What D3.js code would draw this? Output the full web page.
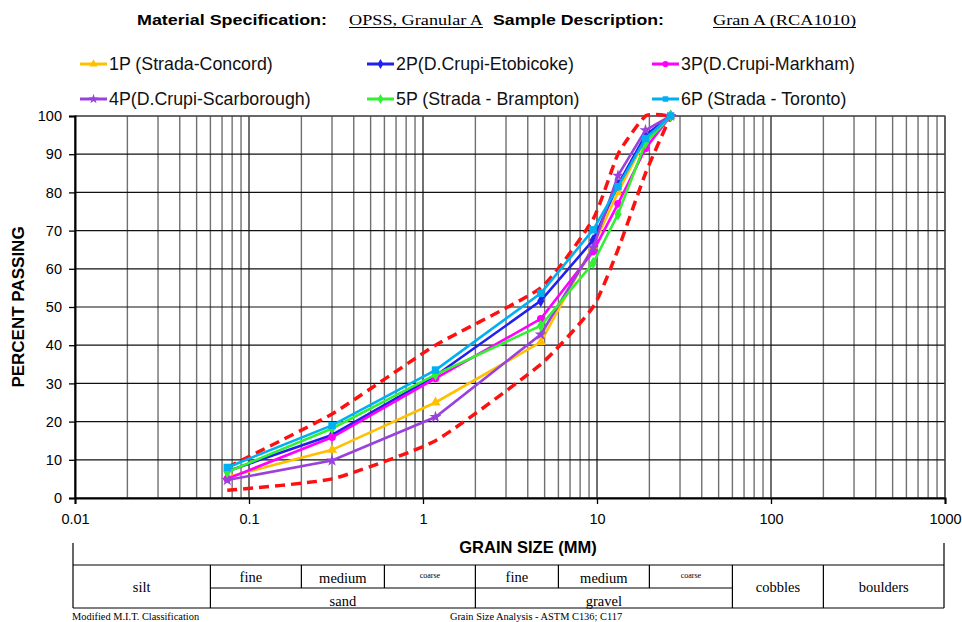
<!DOCTYPE html>
<html><head><meta charset="utf-8">
<script src="https://cdn.jsdelivr.net/npm/d3@7"></script>
<style>body{margin:0;background:#fff}svg{display:block}</style>
</head><body>
<svg id="c" width="962" height="622"></svg>
<script>
// ---- data ----
const sieves = [0.075, 0.3, 1.18, 4.75, 9.5, 13.2, 19, 26.5];
const s1P = [5.5, 12.6, 25, 40.8, 66, 80, 94, 100];
const s2P = [7, 16.5, 32, 51.6, 67.5, 82, 95, 100];
const s3P = [5, 15.9, 31.3, 46.9, 64.5, 77, 91.5, 100];
const s4P = [4.7, 9.8, 21.2, 42.8, 65.5, 84.4, 96.3, 100];
const s5P = [6.8, 18.2, 32.3, 45.1, 61.5, 74.3, 93, 100];
const s6P = [8, 19, 33.5, 53.6, 70.2, 81.5, 94.1, 100];
const upperLimit = [8, 22, 40, 55, 73, 90, 100, 100];
const lowerLimit = [2, 5, 15, 35, 50, 65, 85, 100];
const seriesNames = ["1P (Strada-Concord)", "2P(D.Crupi-Etobicoke)", "3P(D.Crupi-Markham)",
  "4P(D.Crupi-Scarborough)", "5P (Strada - Brampton)", "6P (Strada - Toronto)"];
const xTicks = [0.01, 0.1, 1, 10, 100, 1000];
const yTicks = [0, 10, 20, 30, 40, 50, 60, 70, 80, 90, 100];
// classification boundaries (mm)
const classBounds = [0.06, 0.2, 0.6, 2, 6, 20, 60, 200];

const series = [s1P, s2P, s3P, s4P, s5P, s6P];
const colors = ["#FFC000", "#2020F0", "#FF00FF", "#9A40DC", "#33F033", "#00B0F0"];
const symbols = [d3.symbolTriangle, d3.symbolDiamond, d3.symbolCircle, d3.symbolStar, d3.symbolDiamond, d3.symbolSquare];

const svg = d3.select("#c");
const L = 75, R = 945, T = 116, B = 498;
const x = d3.scaleLog().domain([0.01, 1000]).range([L, R]);
const y = d3.scaleLinear().domain([0, 100]).range([B, T]);
const sans = "'Liberation Sans', Arial, sans-serif";
const serif = "'Liberation Serif', 'Times New Roman', serif";

// ---- title ----
const title = svg.append("g");
title.append("text").attr("x", 137).attr("y", 25).attr("font-family", sans).attr("font-weight", "bold")
  .attr("font-size", 15.5).attr("textLength", 190).attr("lengthAdjust", "spacingAndGlyphs").text("Material Specification:");
title.append("text").attr("x", 349).attr("y", 25).attr("font-family", serif).attr("font-size", 15.5)
  .attr("textLength", 134).attr("lengthAdjust", "spacingAndGlyphs").text("OPSS, Granular A");
title.append("line").attr("x1", 349).attr("x2", 483).attr("y1", 27.5).attr("y2", 27.5).attr("stroke", "#000").attr("stroke-width", 1);
title.append("text").attr("x", 493).attr("y", 25).attr("font-family", sans).attr("font-weight", "bold")
  .attr("font-size", 15.5).attr("textLength", 171).attr("lengthAdjust", "spacingAndGlyphs").text("Sample Description:");
title.append("text").attr("x", 713).attr("y", 25).attr("font-family", serif).attr("font-size", 15.5)
  .attr("textLength", 143).attr("lengthAdjust", "spacingAndGlyphs").text("Gran A (RCA1010)");
title.append("line").attr("x1", 713).attr("x2", 856).attr("y1", 27.5).attr("y2", 27.5).attr("stroke", "#000").attr("stroke-width", 1);

// ---- grid ----
const grid = svg.append("g");
const minor = [];
for (let e = -2; e < 3; e++) for (let m = 2; m <= 9; m++) minor.push(m * Math.pow(10, e));
grid.selectAll(".mn").data(minor).enter().append("line")
  .attr("x1", d => x(d)).attr("x2", d => x(d)).attr("y1", T).attr("y2", B)
  .attr("stroke", "#707070").attr("stroke-width", 1.4);
grid.selectAll(".mj").data(xTicks).enter().append("line")
  .attr("x1", d => x(d)).attr("x2", d => x(d)).attr("y1", T).attr("y2", B)
  .attr("stroke", "#111").attr("stroke-width", 1.2);
grid.selectAll(".hy").data(yTicks).enter().append("line")
  .attr("x1", L).attr("x2", R).attr("y1", d => y(d)).attr("y2", d => y(d))
  .attr("stroke", "#111").attr("stroke-width", 1.2);
grid.append("rect").attr("x", L).attr("y", T).attr("width", R - L).attr("height", B - T)
  .attr("fill", "none").attr("stroke", "#555").attr("stroke-width", 1.2);

// ---- axes ----
const yAxis = svg.append("g").attr("transform", `translate(${L},0)`)
  .call(d3.axisLeft(y).tickValues(yTicks).tickSize(6).tickPadding(7).tickFormat(d3.format("d")));
const xAxis = svg.append("g").attr("transform", `translate(0,${B})`)
  .call(d3.axisBottom(x).tickValues(xTicks).tickSize(6).tickPadding(10).tickFormat(d => String(d)));
[yAxis, xAxis].forEach(a => {
  a.select(".domain").attr("stroke", "#000").attr("stroke-width", 2);
  a.selectAll(".tick line").attr("stroke", "#000").attr("stroke-width", 1.3);
  a.selectAll("text").attr("font-family", sans).attr("font-size", 14.5).attr("fill", "#000");
});

svg.append("text").attr("transform", `translate(24,${(T + B) / 2}) rotate(-90)`).attr("text-anchor", "middle")
  .attr("font-family", sans).attr("font-weight", "bold").attr("font-size", 17).text("PERCENT PASSING");
svg.append("text").attr("x", 528).attr("y", 553).attr("text-anchor", "middle")
  .attr("font-family", sans).attr("font-weight", "bold").attr("font-size", 16.5).text("GRAIN SIZE (MM)");

// ---- spec limits ----
const limLine = d3.line().x((d, i) => x(sieves[i])).y(d => y(d)).curve(d3.curveCardinal.tension(0.5));
[upperLimit, lowerLimit].forEach(lim => {
  svg.append("path").attr("d", limLine(lim)).attr("fill", "none").attr("stroke", "#FF1010")
    .attr("stroke-width", 3.5).attr("stroke-dasharray", "10,6");
});

// ---- series ----
const line = d3.line().x((d, i) => x(sieves[i])).y(d => y(d));
series.forEach((s, k) => {
  const g = svg.append("g");
  g.append("path").attr("d", line(s)).attr("fill", "none").attr("stroke", colors[k]).attr("stroke-width", 2.6);
  g.selectAll("path.m").data(s).enter().append("path").attr("class", "m")
    .attr("transform", (d, i) => `translate(${x(sieves[i])},${y(d)})`)
    .attr("d", d3.symbol().type(symbols[k]).size(k === 5 ? 55 : 45)).attr("fill", colors[k]);
});

// ---- legend ----
const legPos = [[80, 64], [367, 64], [652, 64], [80, 99], [367, 99], [652, 99]];
seriesNames.forEach((n, k) => {
  const [lx, ly] = legPos[k];
  const g = svg.append("g");
  g.append("line").attr("x1", lx).attr("x2", lx + 27).attr("y1", ly).attr("y2", ly)
    .attr("stroke", colors[k]).attr("stroke-width", 3);
  g.append("path").attr("transform", `translate(${lx + 13.5},${ly})`)
    .attr("d", d3.symbol().type(symbols[k]).size(30)).attr("fill", colors[k]);
  g.append("text").attr("x", lx + 29).attr("y", ly + 6).attr("font-family", sans).attr("font-size", 17.8)
    .attr("fill", "#111").text(n);
});

// ---- classification table ----
const tb = svg.append("g").attr("stroke", "#000").attr("stroke-width", 1.2);
const tL = 73, tR = 944, tTop = 543, tMid = 565, tRow = 588, tBot = 608;
tb.append("line").attr("x1", tL).attr("x2", tL).attr("y1", tTop).attr("y2", tBot);
tb.append("line").attr("x1", tR).attr("x2", tR).attr("y1", tTop).attr("y2", tBot);
tb.append("line").attr("x1", tL).attr("x2", tR).attr("y1", tMid).attr("y2", tMid);
tb.append("line").attr("x1", tL).attr("x2", tR).attr("y1", tBot).attr("y2", tBot);
tb.append("line").attr("x1", x(classBounds[0])).attr("x2", x(classBounds[6])).attr("y1", tRow).attr("y2", tRow);
[0, 3, 6, 7].forEach(i => tb.append("line").attr("x1", x(classBounds[i])).attr("x2", x(classBounds[i])).attr("y1", tMid).attr("y2", tBot));
[1, 2, 4, 5].forEach(i => tb.append("line").attr("x1", x(classBounds[i])).attr("x2", x(classBounds[i])).attr("y1", tMid).attr("y2", tRow));

const cellText = (cx, cy, t, fs) => svg.append("text").attr("x", cx).attr("y", cy).attr("text-anchor", "middle")
  .attr("font-family", serif).attr("font-size", fs).attr("fill", "#000").text(t);
const mid = (a, b) => (x(a) + x(b)) / 2;
cellText((tL + x(classBounds[0])) / 2, 592, "silt", 14.5);
cellText(mid(classBounds[0], classBounds[1]) - 5, 582, "fine", 14.5);
cellText(mid(classBounds[1], classBounds[2]), 583, "medium", 14.5);
cellText(mid(classBounds[2], classBounds[3]), 578, "coarse", 8);
cellText(mid(classBounds[3], classBounds[4]), 582, "fine", 14.5);
cellText(mid(classBounds[4], classBounds[5]), 583, "medium", 14.5);
cellText(mid(classBounds[5], classBounds[6]), 578, "coarse", 8);
cellText(mid(classBounds[6], classBounds[7]), 592, "cobbles", 14.5);
cellText((x(classBounds[7]) + tR) / 2, 592, "boulders", 14.5);
cellText(mid(classBounds[0], classBounds[3]), 606, "sand", 14.5);
cellText(mid(classBounds[3], classBounds[6]), 606, "gravel", 14.5);

svg.append("text").attr("x", 72).attr("y", 620).attr("font-family", serif).attr("font-size", 10.4).text("Modified M.I.T. Classification");
svg.append("text").attr("x", 536).attr("y", 620).attr("text-anchor", "middle").attr("font-family", serif).attr("font-size", 10.4)
  .text("Grain Size Analysis - ASTM  C136; C117");
</script>
</body></html>
